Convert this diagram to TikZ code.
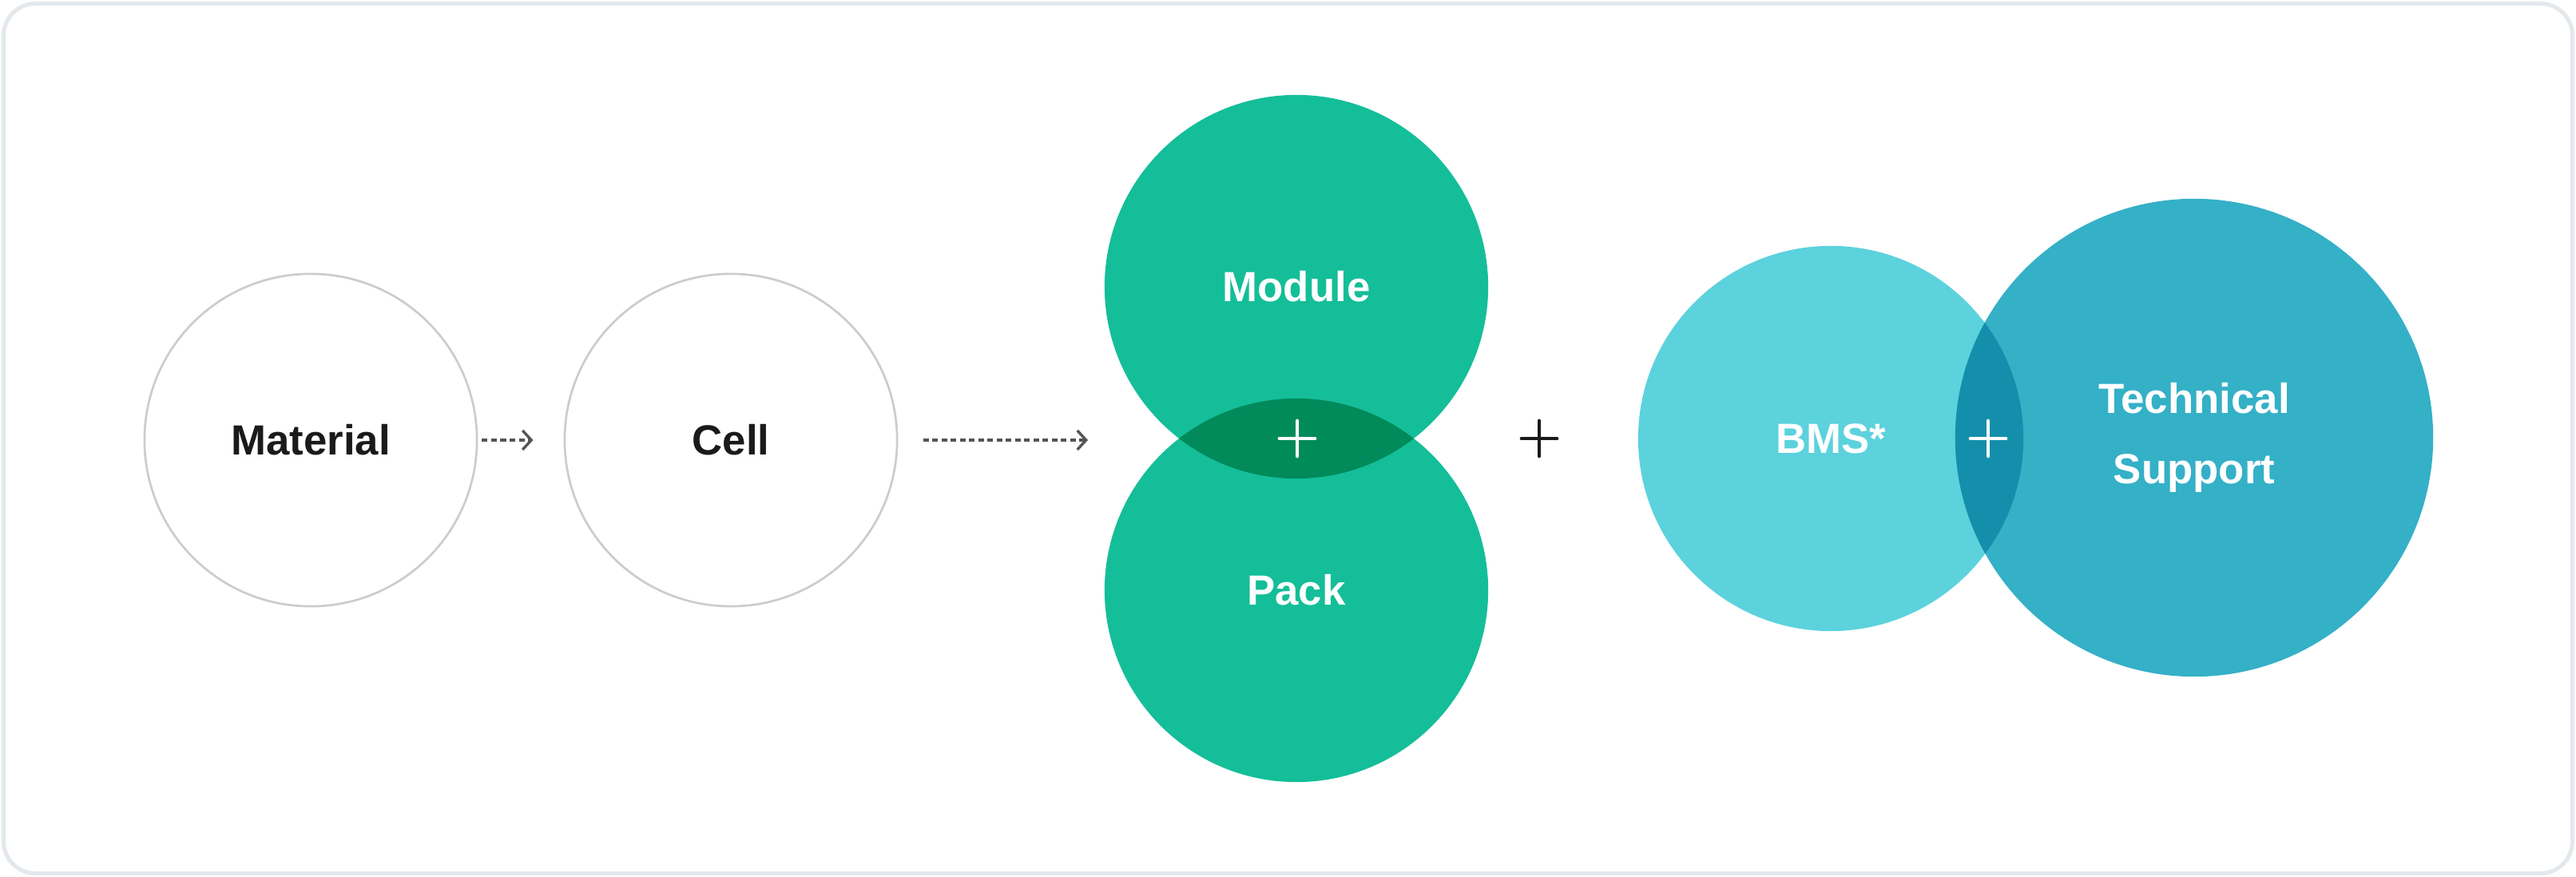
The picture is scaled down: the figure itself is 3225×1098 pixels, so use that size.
\documentclass[tikz,border=0pt]{standalone}
\usepackage{fontspec}
\setmainfont{Liberation Sans}
\usepackage{xcolor}
\usepackage{tikz}
\usetikzlibrary{positioning,arrows.meta,calc}

\definecolor{frameline}{HTML}{E3E8EC}
\definecolor{ringgrey}{HTML}{C9CDD0}
\definecolor{inkdark}{HTML}{1A1A1A}
\definecolor{arrowgrey}{HTML}{555555}
\definecolor{packgreen}{HTML}{14BE98}
\definecolor{lensgreen}{HTML}{018A5A}
\definecolor{bmscyan}{HTML}{5CD2DD}
\definecolor{techblue}{HTML}{34B0C7}
\definecolor{lensblue}{HTML}{148FAB}

\tikzset{
  stage/.style={circle, draw=ringgrey, line width=0.027cm, minimum size=4.16cm,
    inner sep=0pt, text=inkdark, font=\fontsize{15}{18}\selectfont\bfseries},
  ball/.style={circle, minimum size=#1, inner sep=0pt, text=white,
    font=\fontsize{15}{25}\selectfont\bfseries, align=center},
  flow/.style={arrowgrey, line width=0.034cm, dash pattern=on 0.07cm off 0.045cm,
    -{Straight Barb[length=0.11cm,width=0.24cm]}},
  plussign/.style={line width=0.048cm, line cap=round},
}

\begin{document}
\begin{tikzpicture}[x=0.01cm,y=-0.01cm]
  \useasboundingbox (0,0) rectangle (3225,1098);
  \draw[frameline, line width=0.05cm, rounded corners=0.4cm] (4.5,4.5) rectangle (3220.5,1093.5);

  % first two stages
  \node[stage] (mat) at (389,551) {Material};
  \node[stage] (cell) at (915,551) {Cell};
  \coordinate (grp) at (1362,551);
  \draw[flow, shorten <=0.05cm, shorten >=0.38cm] (mat.east) -- (cell.west);
  \draw[flow, shorten <=0.31cm] (cell.east) -- (grp);

  % module + pack
  \node[ball=4.8cm, fill=packgreen] (mod) at (1623,359) {Module};
  \node[ball=4.8cm, fill=packgreen] (pack) at (1623,739) {Pack};
  \begin{scope}
    \clip (mod.center) circle (2.4cm);
    \fill[lensgreen] (pack.center) circle (2.4cm);
  \end{scope}
  \coordinate (lensA) at (1624,549);
  \draw[plussign, white] ($(lensA)+(-22,0)$) -- ($(lensA)+(22,0)$);
  \draw[plussign, white] ($(lensA)+(0,-22)$) -- ($(lensA)+(0,22)$);

  \node[inner sep=0pt] (andsign) at (1927,549) {};
  \draw[plussign, inkdark] ($(andsign)+(-22,0)$) -- ($(andsign)+(22,0)$);
  \draw[plussign, inkdark] ($(andsign)+(0,-22)$) -- ($(andsign)+(0,22)$);

  % bms + technical support
  \node[ball=4.82cm, fill=bmscyan] (bms) at (2292,549) {BMS*};
  \node[ball=5.98cm, fill=techblue] (tech) at (2747,548) {Technical\\Support};
  \begin{scope}
    \clip (bms.center) circle (2.41cm);
    \fill[lensblue] (tech.center) circle (2.99cm);
  \end{scope}
  \coordinate (lensB) at (2489,549);
  \draw[plussign, white] ($(lensB)+(-22,0)$) -- ($(lensB)+(22,0)$);
  \draw[plussign, white] ($(lensB)+(0,-22)$) -- ($(lensB)+(0,22)$);
\end{tikzpicture}
\end{document}
